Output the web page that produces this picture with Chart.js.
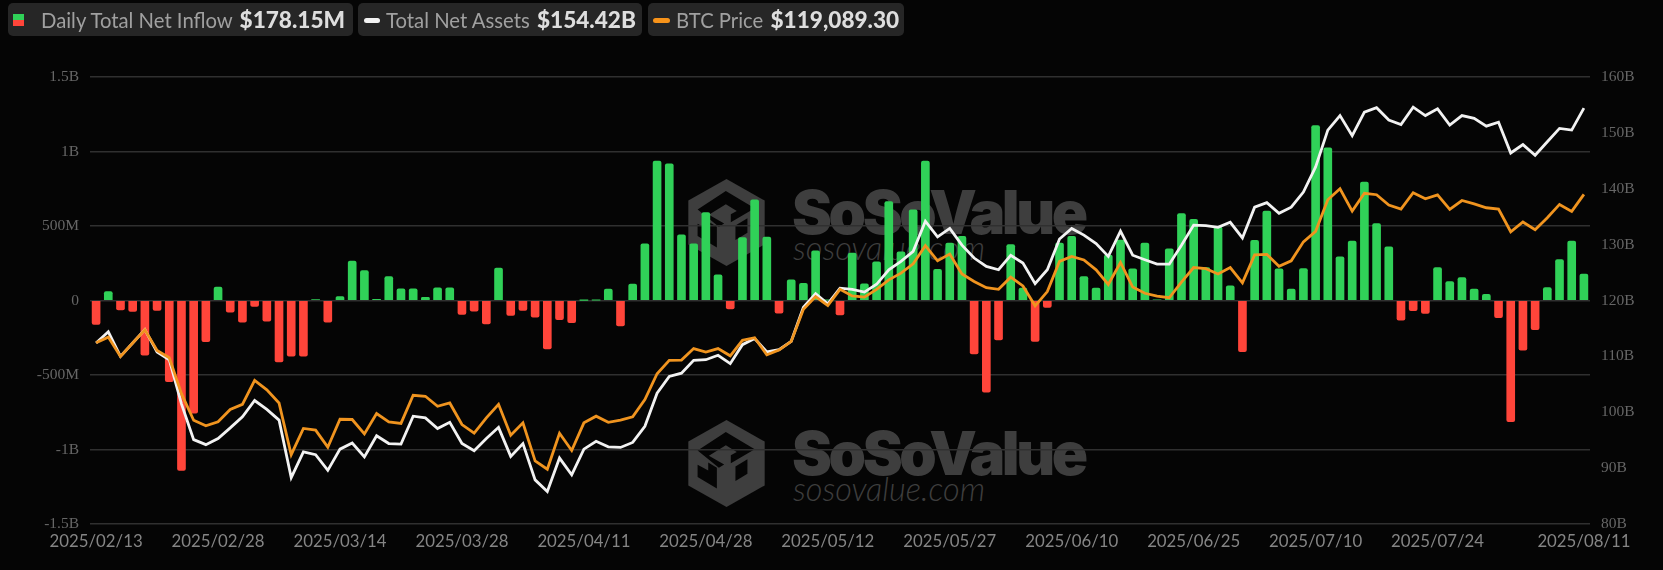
<!DOCTYPE html>
<html>
<head>
<meta charset="utf-8">
<title>Bitcoin spot ETF flows</title>
<script src="https://cdn.jsdelivr.net/npm/chart.js@4/dist/chart.umd.min.js"></script>
<style>
html, body { margin: 0; padding: 0; background: #050505; width: 1663px; height: 570px; overflow: hidden; }
#wrap { position: relative; width: 1663px; height: 570px; font-family: Lato, sans-serif; }
#myChart { position: absolute; left: 0; top: 0; }
.chip { position: absolute; top: 3px; height: 33px; background: #262626; border-radius: 5px; white-space: nowrap; line-height: 34px; font-size: 20.3px; color: #a0a0a0; }
.chip b { font-size: 22.6px; font-weight: 900; color: #dedede; margin-left: 2px; }
.chip span { position: absolute; top: 0; }
.dash { position: absolute; top: 15px; height: 5px; border-radius: 3px; }
.mark { position: absolute; color: #3e3e3e; white-space: nowrap; }
.big { font: 900 60px Inter, sans-serif; letter-spacing: -3.4px; line-height: 60px; }
.small { font: italic 300 32.5px Lato, sans-serif; line-height: 34px; }
.logo { position: absolute; left: 688px; width: 77px; height: 87px; }
</style>
</head>
<body>
<div id="wrap">
  <svg class="logo" style="top:179px" viewBox="0 0 230 262"><use href="#logoShape"/></svg>
  <div class="mark big" style="left:792px;top:182px">SoSoValue</div>
  <div class="mark small" style="left:793px;top:231px">sosovalue.com</div>

  <svg class="logo" style="top:420px" viewBox="0 0 230 262">
    <g id="logoShape">
      <polygon fill="#3e3e3e" points="115,0 230,65 230,197 115,262 0,197 0,65"/>
      <polygon fill="#050505" points="28,92 113,36 200,88 128,130 128,106 146,96 113,76 62,108 108,134 92,144"/>
      <polygon fill="#050505" points="28,135 60,152 60,128 86,144 86,206 28,172"/>
      <polygon fill="#050505" points="142,140 178,118 178,162 142,184"/>
    </g>
  </svg>
  <div class="mark big" style="left:792px;top:423px">SoSoValue</div>
  <div class="mark small" style="left:793px;top:472px">sosovalue.com</div>

  <canvas id="myChart" width="1663" height="570"></canvas>

  <div class="chip" style="left:8px;width:345px">
    <svg style="position:absolute;left:5px;top:11px" width="11" height="12"><rect width="11" height="6" fill="#30d158"/><rect y="6" width="11" height="6" fill="#ff453a"/></svg>
    <span style="left:33px">Daily Total Net Inflow <b>$178.15M</b></span>
  </div>
  <div class="chip" style="left:358px;width:284px">
    <div class="dash" style="left:6px;width:16px;background:#f2f2f2"></div>
    <span style="left:28px">Total Net Assets <b>$154.42B</b></span>
  </div>
  <div class="chip" style="left:648px;width:256px">
    <div class="dash" style="left:5px;width:17px;background:#f7931a"></div>
    <span style="left:28px">BTC Price <b>$119,089.30</b></span>
  </div>
</div>

<script>
// trading days
const dates = [
  '2025/02/13','2025/02/14','2025/02/18','2025/02/19','2025/02/20','2025/02/21','2025/02/24','2025/02/25','2025/02/26','2025/02/27','2025/02/28',
  '2025/03/03','2025/03/04','2025/03/05','2025/03/06','2025/03/07','2025/03/10','2025/03/11','2025/03/12','2025/03/13','2025/03/14',
  '2025/03/17','2025/03/18','2025/03/19','2025/03/20','2025/03/21','2025/03/24','2025/03/25','2025/03/26','2025/03/27','2025/03/28',
  '2025/03/31','2025/04/01','2025/04/02','2025/04/03','2025/04/04','2025/04/07','2025/04/08','2025/04/09','2025/04/10','2025/04/11',
  '2025/04/14','2025/04/15','2025/04/16','2025/04/17','2025/04/21','2025/04/22','2025/04/23','2025/04/24','2025/04/25','2025/04/28',
  '2025/04/29','2025/04/30','2025/05/01','2025/05/02','2025/05/05','2025/05/06','2025/05/07','2025/05/08','2025/05/09','2025/05/12',
  '2025/05/13','2025/05/14','2025/05/15','2025/05/16','2025/05/19','2025/05/20','2025/05/21','2025/05/22','2025/05/23','2025/05/27',
  '2025/05/28','2025/05/29','2025/05/30','2025/06/02','2025/06/03','2025/06/04','2025/06/05','2025/06/06','2025/06/09','2025/06/10',
  '2025/06/11','2025/06/12','2025/06/13','2025/06/16','2025/06/17','2025/06/18','2025/06/20','2025/06/23','2025/06/24','2025/06/25',
  '2025/06/26','2025/06/27','2025/06/30','2025/07/01','2025/07/02','2025/07/03','2025/07/07','2025/07/08','2025/07/09','2025/07/10',
  '2025/07/11','2025/07/14','2025/07/15','2025/07/16','2025/07/17','2025/07/18','2025/07/21','2025/07/22','2025/07/23','2025/07/24',
  '2025/07/25','2025/07/28','2025/07/29','2025/07/30','2025/07/31','2025/08/01','2025/08/04','2025/08/05','2025/08/06','2025/08/07','2025/08/08','2025/08/11'
];

// daily net inflow, $M
const netInflow = [
  -161,60,-63,-74,-367,-67,-544,-1140,-756,-277,90,-78,-145,-40,-139,-412,-374,-374,7,-145,27,
  265,200,8,161,78,78,22,85,85,-94,-72,-157,218,-100,-67,-112,-325,-128,-148,
  1,3,76,-170,110,380,935,917,440,380,590,172,-56,423,675,425,-85,139,116,333,2,-96,
  318,112,260,664,327,608,935,210,385,430,-358,-615,-264,376,83,-275,-47,385,430,161,83,
  305,405,212,385,5,347,584,544,221,494,98,-344,403,600,212,76,215,1174,1025,293,398,794,517,360,
  -132,-69,-87,221,127,154,76,42,-116,-814,-333,-195,87,275,398,178.15
];

// total net assets, $B
const netAssets = [
  112.4,114.4,110,112.4,114.8,110.8,109.4,101.5,95.1,94.2,95.3,97.2,99.2,102.1,100.5,98.6,88.3,92.9,92.4,89.6,93.4,
  94.5,92,95.8,94.4,94.3,99.3,99,97.1,98.2,94.4,93.1,95.3,97.3,92.1,94.4,87.9,85.8,91.8,88.8,
  93.4,94.8,93.8,93.7,94.6,97.5,103.4,106.4,107,109.3,109.4,110.2,108.7,112.1,113.2,110.8,111.2,112.7,118.8,121.2,119.4,122.2,
  122,121.5,122.9,125.5,127,128.8,134.2,131.4,132.9,129.9,127.6,126.1,125.5,128.1,126.7,123,125.5,131,132.9,131.7,130.2,
  127.9,132.4,128.1,127.3,126.5,126.5,129.9,133.5,133.4,133.1,134,131.2,136.7,137.5,135.6,136.7,139.4,143.9,150.5,153.1,149.5,153.7,154.5,152.3,
  151.5,154.6,153.1,154.3,151.4,153.1,152.6,151.2,151.9,146.4,147.9,146,148.4,150.8,150.5,154.42
];

// BTC price, $
const btcPrice = [
  95980,96860,93860,95950,98000,94790,93650,88060,83920,83040,83680,85590,86380,90120,88640,86610,78550,82640,82380,79720,84070,
  84030,81790,84950,83650,83420,87800,87650,86090,86610,83250,81900,84280,86400,81590,83510,77590,76290,81900,79200,
  83510,84550,83590,83920,84460,87130,91160,93250,93290,95080,94530,95080,93950,96350,96760,94120,94840,96190,101210,103170,101780,104300,
  103280,103080,104300,105780,106820,108260,111090,108740,109780,106700,105520,104560,104300,106190,104820,101730,103950,108650,109430,108880,107340,
  105050,108480,104650,103690,103230,102990,105430,107690,107520,106700,107690,105300,109650,109750,107890,108740,111690,113330,118250,119960,116480,119260,119030,117420,
  116800,119350,118390,119000,116740,118130,117610,117000,116800,113260,114780,113590,115440,117520,116440,119089.3
];

// axis labels
const xTickLabels = ['2025/02/13','2025/02/28','2025/03/14','2025/03/28','2025/04/11','2025/04/28','2025/05/12','2025/05/27','2025/06/10','2025/06/25','2025/07/10','2025/07/24','2025/08/11'];
const flowTicks = { '-1500':'-1.5B', '-1000':'-1B', '-500':'-500M', '0':'0', '500':'500M', '1000':'1B', '1500':'1.5B' };

const ctx = document.getElementById('myChart').getContext('2d');
new Chart(ctx, {
  data: {
    labels: dates,
    datasets: [
      {
        type: 'line', label: 'BTC Price', data: btcPrice, yAxisID: 'yBtc', order: 1,
        borderColor: '#f0941f', borderWidth: 2.8, pointRadius: 0, tension: 0
      },
      {
        type: 'line', label: 'Total Net Assets', data: netAssets, yAxisID: 'yAssets', order: 2,
        borderColor: '#f2f2f2', borderWidth: 2.8, pointRadius: 0, tension: 0
      },
      {
        type: 'bar', label: 'Daily Total Net Inflow', data: netInflow, yAxisID: 'yFlow', order: 3,
        backgroundColor: c => c.raw >= 0 ? '#30d158' : '#ff453a',
        barThickness: 8, borderRadius: 2
      }
    ]
  },
  options: {
    responsive: false,
    animation: false,
    layout: { padding: { top: 77 } },
    plugins: { legend: { display: false }, tooltip: { enabled: false } },
    scales: {
      x: {
        grid: { display: false },
        border: { display: false },
        afterFit: s => { s.height = 46; },
        ticks: {
          autoSkip: false, maxRotation: 0, padding: 0,
          color: '#858585', font: { family: 'Lato', size: 16.8 },
          callback: function (v) {
            const d = this.getLabelForValue(v);
            return xTickLabels.includes(d) ? d : '';
          }
        }
      },
      yFlow: {
        position: 'left', min: -1500, max: 1500,
        border: { display: false },
        grid: { color: '#303030', lineWidth: 1.5, drawTicks: false },
        afterFit: s => { s.width = 90; },
        ticks: {
          stepSize: 500, padding: 11,
          color: '#666666', font: { family: 'Liberation Serif', size: 15.5 },
          callback: v => flowTicks[String(v)]
        }
      },
      yAssets: {
        position: 'right', min: 80, max: 160,
        border: { display: false },
        grid: { display: false, drawTicks: false },
        afterFit: s => { s.width = 73; },
        ticks: {
          stepSize: 10, padding: 11,
          color: '#666666', font: { family: 'Liberation Serif', size: 15.5 },
          callback: v => v + 'B'
        }
      },
      yBtc: { display: false, min: 67760, max: 137360 }
    }
  }
});
</script>
</body>
</html>
